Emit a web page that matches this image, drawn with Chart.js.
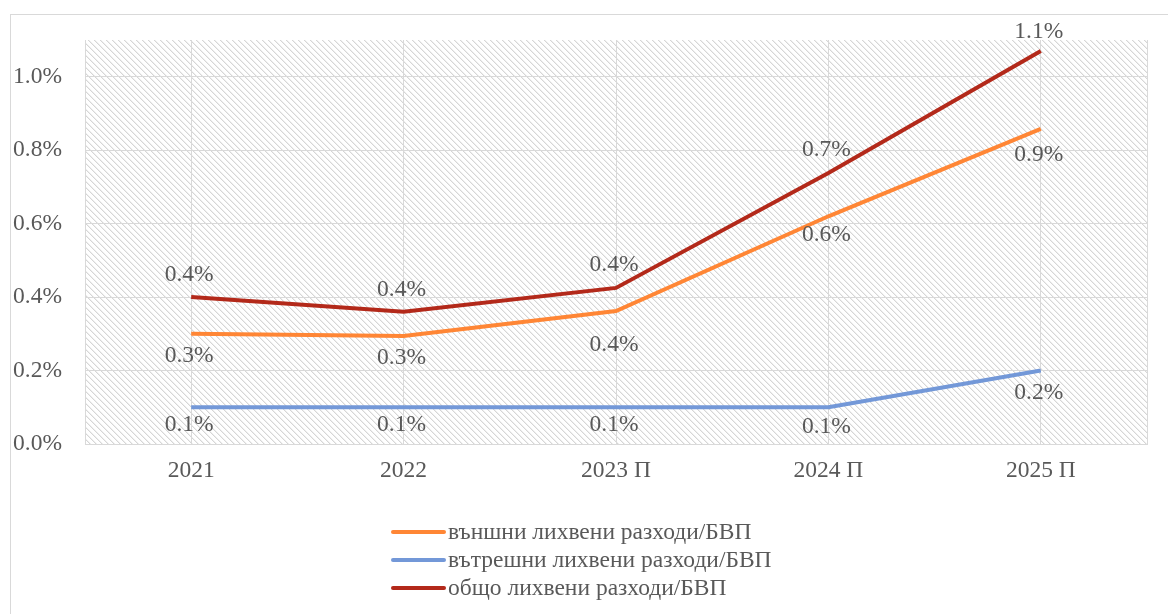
<!DOCTYPE html>
<html>
<head>
<meta charset="utf-8">
<script src="https://cdn.jsdelivr.net/npm/chart.js@4.4.1/dist/chart.umd.min.js"></script>
<style>
  html, body { margin: 0; padding: 0; background: #fff; }
  #wrap { position: relative; width: 1168px; height: 614px; }
</style>
</head>
<body>
<div id="wrap"><canvas id="myChart" width="1168" height="614"></canvas></div>
<script>
var years = ['2021', '2022', '2023 П', '2024 П', '2025 П'];
var seriesNames = ['външни лихвени разходи/БВП', 'вътрешни лихвени разходи/БВП', 'общо лихвени разходи/БВП'];
var externalRates = [0.30, 0.294, 0.362, 0.62, 0.858];
var domesticRates = [0.10, 0.10, 0.10, 0.10, 0.20];
var totalRates = [0.40, 0.36, 0.425, 0.738, 1.07];
var lineColors = ['#FF8635', '#7398D8', '#B3291A'];

// vertical shift of each value label from its point, px (negative = above)
var labelShift = [
    [22, 22, 34, 19, 26],
    [18, 18, 18, 20, 22],
    [-22, -22, -23, -23, -19]
];

var FONT = '"Liberation Serif", "Times New Roman", serif';
var FONT_SIZE = 23.5;
var TEXT_COLOR = '#595959';
var GRID_COLOR = '#d9d9d9';

// diagonal hatch used as the plot background
function makeHatch(ctx) {
    var c = document.createElement('canvas');
    c.width = 6;
    c.height = 6;
    var p = c.getContext('2d');
    p.fillStyle = '#fff';
    p.fillRect(0, 0, 6, 6);
    for (var i = 0; i < 6; i++) {
        p.fillStyle = '#d6d6d6';
        p.fillRect(i, i, 1, 1);
        p.fillStyle = '#efefef';
        p.fillRect((i + 1) % 6, i, 1, 1);
    }
    return ctx.createPattern(c, 'repeat');
}

var hatchBg = {
    id: 'hatchBg',
    beforeDraw: function (chart) {
        var ctx = chart.ctx;
        var a = chart.chartArea;
        ctx.save();
        // outer frame
        ctx.strokeStyle = GRID_COLOR;
        ctx.lineWidth = 1;
        ctx.strokeRect(10.5, 14.5, 1200, 700);
        ctx.fillStyle = makeHatch(ctx);
        ctx.fillRect(a.left, a.top, a.right - a.left, a.bottom - a.top);
        // right edge of the plot
        ctx.beginPath();
        ctx.moveTo(Math.round(a.right) + 0.5, a.top);
        ctx.lineTo(Math.round(a.right) + 0.5, a.bottom);
        ctx.stroke();
        ctx.restore();
    }
};

var valueLabels = {
    id: 'valueLabels',
    afterDatasetsDraw: function (chart) {
        var ctx = chart.ctx;
        ctx.save();
        ctx.font = FONT_SIZE + 'px ' + FONT;
        ctx.fillStyle = TEXT_COLOR;
        ctx.textAlign = 'center';
        ctx.textBaseline = 'middle';
        chart.data.datasets.forEach(function (ds, i) {
            var meta = chart.getDatasetMeta(i);
            meta.data.forEach(function (pt, j) {
                ctx.fillText(ds.data[j].toFixed(1) + '%', pt.x - 2, pt.y + labelShift[i][j]);
            });
        });
        ctx.restore();
    }
};

var stackedLegend = {
    id: 'stackedLegend',
    afterDraw: function (chart) {
        var ctx = chart.ctx;
        var x0 = 393;
        var y0 = chart.chartArea.bottom + 88;
        ctx.save();
        ctx.font = FONT_SIZE + 'px ' + FONT;
        ctx.textBaseline = 'middle';
        ctx.textAlign = 'left';
        chart.data.datasets.forEach(function (ds, i) {
            var y = y0 + i * 28;
            ctx.strokeStyle = ds.borderColor;
            ctx.lineWidth = 4;
            ctx.lineCap = 'round';
            ctx.beginPath();
            ctx.moveTo(x0, y);
            ctx.lineTo(x0 + 51, y);
            ctx.stroke();
            ctx.fillStyle = TEXT_COLOR;
            ctx.fillText(ds.label, x0 + 55, y + 1);
        });
        ctx.restore();
    }
};

var allSeries = [externalRates, domesticRates, totalRates];
var datasets = allSeries.map(function (values, i) {
    return {
        label: seriesNames[i],
        data: values,
        borderColor: lineColors[i],
        backgroundColor: lineColors[i],
        borderWidth: 4,
        pointRadius: 0,
        tension: 0,
        fill: false
    };
});

var ctx = document.getElementById('myChart').getContext('2d');
var myChart = new Chart(ctx, {
    type: 'line',
    data: { labels: years, datasets: datasets },
    plugins: [hatchBg, valueLabels, stackedLegend],
    options: {
        responsive: false,
        animation: false,
        layout: { padding: { left: 10, top: 40, right: 21, bottom: 110 } },
        plugins: {
            legend: { display: false },
            tooltip: { enabled: false }
        },
        scales: {
            x: {
                offset: true,
                grid: { offset: false, color: GRID_COLOR, drawTicks: false },
                border: { display: true, color: GRID_COLOR },
                ticks: {
                    padding: 13,
                    color: TEXT_COLOR,
                    font: { family: FONT, size: FONT_SIZE }
                },
                afterFit: function (scale) { scale.height = 60; }
            },
            y: {
                min: 0,
                max: 1.1,
                grid: { color: GRID_COLOR, drawTicks: false },
                border: { display: true, color: GRID_COLOR },
                ticks: {
                    stepSize: 0.2,
                    includeBounds: false,
                    padding: 23,
                    color: TEXT_COLOR,
                    font: { family: FONT, size: FONT_SIZE },
                    callback: function (v) { return v.toFixed(1) + '%'; }
                },
                afterFit: function (scale) { scale.width = 75; }
            }
        }
    }
});
</script>
</body>
</html>
